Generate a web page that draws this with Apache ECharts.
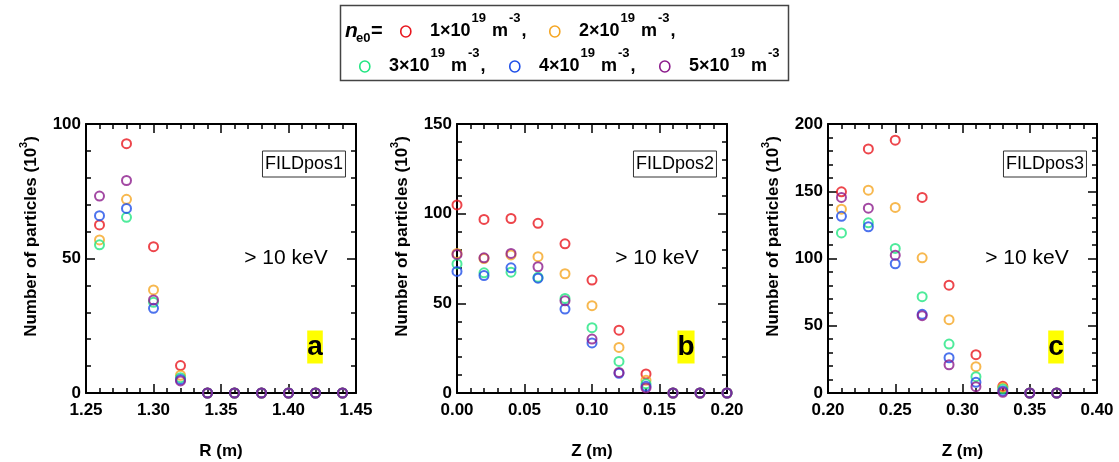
<!DOCTYPE html>
<html>
<head>
<meta charset="utf-8">
<script src="https://cdn.jsdelivr.net/npm/echarts@6/dist/echarts.min.js"></script>
<style>
html,body{margin:0;padding:0;background:#fff;}
#chart{width:1119px;height:462px;background:#fff;}
</style>
</head>
<body>
<div id="chart"></div>
<script>
// ---------------- data ----------------
const densities = ['1', '2', '3', '4', '5'];           // n_e0 in 10^19 m^-3
const colors = ['#e8161e', '#f5a623', '#22e682', '#1f4fe8', '#8c1c8c'];

const panelNames = ['FILDpos1', 'FILDpos2', 'FILDpos3'];
const panelLetters = ['a', 'b', 'c'];
const xTitles = ['R (m)', 'Z (m)', 'Z (m)'];
const yTitle = 'Number of particles (10{sup|3})';
const energyText = '> 10 keV';

const xA = [1.26, 1.28, 1.30, 1.32, 1.34, 1.36, 1.38, 1.40, 1.42, 1.44];
const aN1 = [62.5, 92.7, 54.4, 10.2, 0, 0, 0, 0, 0, 0];
const aN2 = [56.9, 72.0, 38.3, 6.6, 0, 0, 0, 0, 0, 0];
const aN3 = [55.1, 65.3, 33.7, 5.7, 0, 0, 0, 0, 0, 0];
const aN4 = [65.9, 68.6, 31.5, 5.0, 0, 0, 0, 0, 0, 0];
const aN5 = [73.2, 79.0, 34.6, 4.5, 0, 0, 0, 0, 0, 0];

const xB = [0.00, 0.02, 0.04, 0.06, 0.08, 0.10, 0.12, 0.14, 0.16, 0.18, 0.20];
const bN1 = [104.9, 96.8, 97.3, 94.6, 83.2, 63.0, 35.0, 10.6, 0, 0, 0];
const bN2 = [77.8, 75.0, 77.0, 76.0, 66.5, 48.7, 25.4, 7.1, 0, 0, 0];
const bN3 = [72.0, 67.0, 67.4, 64.5, 52.7, 36.4, 17.6, 5.1, 0, 0, 0];
const bN4 = [67.8, 65.5, 69.8, 64.0, 46.8, 27.9, 11.0, 3.7, 0, 0, 0];
const bN5 = [77.3, 75.4, 77.8, 70.4, 51.4, 30.1, 11.5, 2.8, 0, 0, 0];

const xC = [0.21, 0.23, 0.25, 0.27, 0.29, 0.31, 0.33, 0.35, 0.37];
const cN1 = [149.6, 181.5, 188.0, 145.4, 80.2, 28.5, 5.0, 0, 0];
const cN2 = [136.7, 150.8, 138.0, 100.5, 54.5, 19.6, 4.0, 0, 0];
const cN3 = [119.0, 126.5, 107.5, 71.6, 36.4, 12.1, 3.0, 0, 0];
const cN4 = [131.4, 123.6, 96.1, 58.5, 26.2, 7.9, 1.5, 0, 0];
const cN5 = [145.4, 137.4, 102.5, 57.5, 21.0, 4.7, 0.5, 0, 0];

const xRanges = [[1.25, 1.45], [0.00, 0.20], [0.20, 0.40]];
const yMaxes = [100, 150, 200];
const xInterval = 0.05;
const yInterval = 50;

const panelX = [xA, xB, xC];
const panelY = [[aN1, aN2, aN3, aN4, aN5], [bN1, bN2, bN3, bN4, bN5], [cN1, cN2, cN3, cN4, cN5]];

// ---------------- layout ----------------
const FF = '"Liberation Sans", Arial, sans-serif';
const grids = [
  {left: 86, top: 124, width: 270, height: 269, containLabel: false, outerBoundsMode: 'none'},
  {left: 457, top: 124, width: 270, height: 269, containLabel: false, outerBoundsMode: 'none'},
  {left: 828, top: 124, width: 269, height: 269, containLabel: false, outerBoundsMode: 'none'}
];

const mctx = document.createElement('canvas').getContext('2d');
function tw(text, size, weight, style) {
  mctx.font = (style || 'normal') + ' ' + (weight || 'bold') + ' ' + size + 'px ' + FF;
  return mctx.measureText(text).width;
}

function axisCommon(i) {
  return {
    gridIndex: i, type: 'value',
    splitLine: {show: false},
    axisLine: {show: true, onZero: false, lineStyle: {color: '#000', width: 2}},
    axisTick: {show: true, inside: true, length: 9, lineStyle: {color: '#000', width: 1.5}},
    minorTick: {show: true, splitNumber: 5, length: 5, lineStyle: {color: '#000', width: 1.5}}
  };
}
function labelStyle(margin, fmt) {
  return {show: true, margin: margin, color: '#000', fontSize: 17, fontWeight: 'bold', fontFamily: FF, formatter: fmt};
}

const xAxes = [], yAxes = [], series = [], titles = [];

// helper: a text placed by its left edge and vertical centre (title component)
function textAt(text, left, cy, size, weight, extra) {
  const lh = (extra && extra.lineHeight) || Math.round(size * 1.25);
  const t = {
    text: text, left: left, top: cy - lh / 2, padding: 0,
    textStyle: Object.assign({fontSize: size, fontWeight: weight || 'bold', fontFamily: FF, color: '#000', lineHeight: lh},
      (extra && extra.textStyle) || {})
  };
  if (extra && extra.box) Object.assign(t, extra.box);
  return t;
}

grids.forEach((g, i) => {
  xAxes.push(Object.assign(axisCommon(i), {
    position: 'bottom', min: xRanges[i][0], max: xRanges[i][1], interval: xInterval,
    axisLabel: labelStyle(9, v => v.toFixed(2)),
    name: xTitles[i], nameLocation: 'middle', nameGap: 48, nameMoveOverlap: false,
    nameTextStyle: {fontSize: 17, fontWeight: 'bold', fontFamily: FF, color: '#000', lineHeight: 20}
  }));
  xAxes.push(Object.assign(axisCommon(i), {
    position: 'top', min: xRanges[i][0], max: xRanges[i][1], interval: xInterval,
    axisLabel: {show: false}
  }));
  yAxes.push(Object.assign(axisCommon(i), {
    position: 'left', min: 0, max: yMaxes[i], interval: yInterval,
    axisLabel: labelStyle(5, v => String(Math.round(v))),
    name: yTitle, nameLocation: 'middle', nameRotate: 90, nameGap: 42, nameMoveOverlap: false,
    nameTextStyle: {fontSize: 17, fontWeight: 'bold', fontFamily: FF, color: '#000', lineHeight: 26,
      padding: [0, 0, 0, 44],
      rich: {sup: {fontSize: 11, fontWeight: 'bold', fontFamily: FF, color: '#000', lineHeight: 6, verticalAlign: 'top'}}}
  }));
  yAxes.push(Object.assign(axisCommon(i), {
    position: 'right', min: 0, max: yMaxes[i], interval: yInterval,
    axisLabel: {show: false}
  }));

  densities.forEach((d, j) => {
    series.push({
      type: 'scatter', name: d, xAxisIndex: 2 * i, yAxisIndex: 2 * i,
      symbol: 'circle', symbolSize: 9, clip: false, silent: true,
      itemStyle: {color: 'rgba(0,0,0,0)', borderColor: colors[j], borderWidth: 2},
      emphasis: {disabled: true},
      data: panelX[i].map((x, k) => [x, panelY[i][j][k]]),
      z: 3
    });
  });

  const rx = g.left + g.width;
  // FILDpos box
  const wName = tw(panelNames[i], 18, 'normal');
  titles.push(textAt(panelNames[i], rx - 52 - (wName + 6) / 2, 164, 18, 'normal', {
    lineHeight: 20,
    box: {padding: [4, 3, 3, 3], top: 164 - 13.5, borderColor: '#333', borderWidth: 1, backgroundColor: '#fff'}
  }));
  // energy text
  const wE = tw(energyText, 21, 'normal');
  titles.push(textAt(energyText, rx - 70 - wE / 2, 258, 21, 'normal', {lineHeight: 24}));
  // panel letter
  const wL = tw(panelLetters[i], 28, 'bold');
  titles.push(textAt(panelLetters[i], rx - 41 - wL / 2, 347, 28, 'bold', {
    lineHeight: 33, box: {backgroundColor: '#ffff00'}
  }));
});

// ---------------- legend (custom box) ----------------
titles.push({
  text: ' ', left: 340.5, top: 5.5, padding: [37, 224, 37, 224],
  borderColor: '#444', borderWidth: 1.5,
  textStyle: {fontSize: 1, lineHeight: 1, color: '#fff'}
});
titles.push(textAt('n', 345, 31, 21, 'bold', {textStyle: {fontStyle: 'italic'}}));
titles.push(textAt('e0', 356, 38, 13, 'bold'));
titles.push(textAt('=', 371, 31, 20, 'bold'));

const legCx = [406, 555, 365, 515, 665];
const legCy = [31.5, 31.5, 66.5, 66.5, 66.5];
densities.forEach((d, j) => {
  const cy = legCy[j];
  // hollow circle marker
  titles.push({
    text: ' ', left: legCx[j] - 5.6, top: cy - 5.5, padding: [5, 5.4, 5, 5.4],
    borderColor: colors[j], borderWidth: 1.6, borderRadius: 6,
    textStyle: {fontSize: 1, lineHeight: 1, color: 'rgba(0,0,0,0)'}
  });
  const tail = j < densities.length - 1 ? ',' : '';
  let x = legCx[j] + 24;
  const parts = [
    [d + '×10', 18, 0], ['19', 13, -13], [' m', 18, 0], ['-3', 13, -13], [tail, 18, 0]
  ];
  parts.forEach(p => {
    if (!p[0]) return;
    titles.push(textAt(p[0], x, cy + p[2], p[1], 'bold'));
    x += tw(p[0], p[1], 'bold') + 1;
  });
});

const chart = echarts.init(document.getElementById('chart'), null, {renderer: 'canvas'});
chart.setOption({
  animation: false,
  title: titles,
  grid: grids,
  xAxis: xAxes,
  yAxis: yAxes,
  series: series
});
</script>
</body>
</html>
